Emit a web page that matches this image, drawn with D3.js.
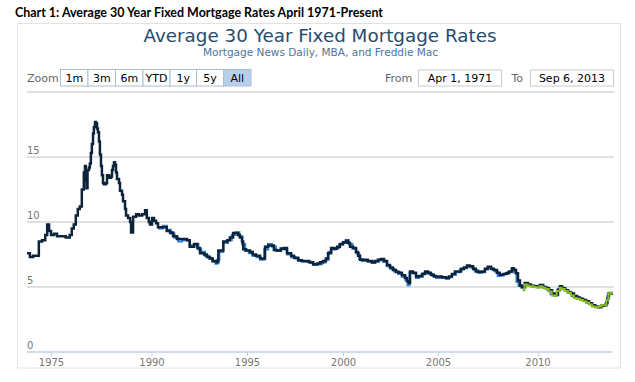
<!DOCTYPE html>
<html><head><meta charset="utf-8">
<script src="https://cdn.jsdelivr.net/npm/d3@7"></script>
<style>
html,body{margin:0;padding:0;background:#fff;}
svg{display:block;}
</style></head>
<body><svg id="c" width="635" height="382"></svg>
<script>
// ---- data (decimal year, rate %) ----
const freddieMac = [
[1971.25,7.6],[1971.7,7.3],[1972.2,7.4],[1972.8,7.4],[1973.1,8.5],[1973.6,8.6],[1974.1,9.0],[1974.4,9.8],[1974.7,9.3],
[1975.0,9.0],[1975.45,9.1],[1975.9,8.9],[1976.6,8.9],[1977.2,8.8],[1977.8,9.0],[1978.1,9.5],[1978.4,9.8],[1978.7,10.5],
[1979.0,11.0],[1979.3,11.2],[1979.6,12.5],[1979.9,13.8],[1980.07,14.3],[1980.2,13.2],[1980.3,12.6],[1980.45,14.0],
[1980.67,14.2],[1980.8,14.5],[1980.95,15.3],[1981.1,16.0],[1981.27,16.8],[1981.4,17.3],[1981.57,17.7],[1981.7,17.6],
[1981.87,17.2],[1982.0,16.9],[1982.16,16.2],[1982.3,15.2],[1982.46,14.3],[1982.6,13.6],[1982.76,13.0],[1982.9,12.9],
[1983.2,13.0],[1983.36,13.6],[1983.66,13.4],[1983.96,13.5],[1984.1,14.0],[1984.25,14.3],[1984.4,14.6],[1984.55,14.4],
[1984.7,13.8],[1984.85,13.3],[1985.15,13.0],[1985.3,12.4],[1985.6,12.1],[1985.75,11.6],[1986.05,11.0],[1986.2,10.5],
[1986.5,10.3],[1986.8,10.0],[1986.95,9.2],[1987.1,9.2],[1987.25,10.4],[1987.7,10.6],[1988.1,10.5],[1988.6,10.6],
[1989.04,10.9],[1989.3,10.3],[1989.6,10.0],[1989.78,9.8],[1990.03,10.3],[1990.13,10.1],[1990.24,9.9],[1990.34,9.6],
[1990.55,9.6],[1990.7,9.6],[1990.8,9.3],[1990.97,9.2],[1991.13,8.9],[1991.33,8.7],[1991.6,8.7],[1991.86,8.6],
[1992.0,8.1],[1992.23,8.3],[1992.4,8.0],[1992.54,7.6],[1992.75,7.5],[1992.9,7.3],[1993.06,7.2],[1993.2,7.0],
[1993.4,6.9],[1993.5,7.8],[1993.6,7.8],[1993.76,8.5],[1993.97,8.6],[1994.1,8.8],[1994.27,9.15],[1994.43,9.15],
[1994.53,9.0],[1994.63,8.8],[1994.74,8.5],[1994.8,7.9],[1994.95,7.8],[1995.16,7.7],[1995.3,7.5],[1995.47,7.4],
[1995.68,7.2],[1995.83,7.2],[1995.94,8.1],[1996.1,8.2],[1996.25,8.2],[1996.4,7.85],[1996.56,7.8],[1996.77,7.95],
[1996.93,8.0],[1997.08,7.6],[1997.3,7.4],[1997.45,7.25],[1997.66,7.05],[1997.86,7.0],[1998.07,7.0],[1998.23,6.9],
[1998.44,6.75],[1998.65,6.8],[1998.8,6.9],[1998.96,7.0],[1999.11,7.2],[1999.22,7.6],[1999.38,8.0],[1999.53,7.95],
[1999.69,8.1],[1999.84,8.3],[2000.0,8.45],[2000.16,8.55],[2000.26,8.4],[2000.37,8.1],[2000.53,8.0],[2000.68,7.7],
[2000.79,7.4],[2000.9,7.1],[2001.1,7.1],[2001.3,7.0],[2001.53,6.9],[2001.68,7.0],[2001.84,7.1],[2002.0,7.15],
[2002.16,7.0],[2002.32,6.7],[2002.47,6.5],[2002.63,6.3],[2002.79,6.15],[2002.95,6.1],[2003.1,5.9],[2003.26,5.7],
[2003.37,5.45],[2003.47,5.3],[2003.53,6.2],[2003.68,6.1],[2003.84,5.8],[2004.0,5.85],[2004.16,6.0],[2004.32,6.2],
[2004.47,6.1],[2004.63,5.95],[2004.79,5.8],[2005.0,5.8],[2005.2,5.75],[2005.4,5.7],[2005.55,5.8],[2005.7,6.0],
[2005.85,6.2],[2006.0,6.2],[2006.16,6.4],[2006.3,6.5],[2006.46,6.65],[2006.6,6.6],[2006.76,6.4],[2006.9,6.2],
[2007.06,6.15],[2007.2,6.2],[2007.36,6.4],[2007.5,6.55],[2007.66,6.4],[2007.8,6.3],[2007.96,6.1],[2008.1,5.95],
[2008.27,6.0],[2008.42,6.05],[2008.57,6.2],[2008.72,6.45],[2008.8,6.3],[2008.92,6.05],[2009.02,5.5],[2009.12,5.1],
[2009.22,5.0],[2009.37,5.3],[2009.52,5.2],[2009.67,5.1],[2009.82,5.05],[2009.97,5.05],[2010.12,5.15],[2010.27,5.0],
[2010.42,4.9],[2010.57,4.75],[2010.72,4.5],[2010.87,4.4],[2011.01,4.8],[2011.11,5.05],[2011.21,4.9],[2011.36,4.75],
[2011.5,4.6],[2011.66,4.5],[2011.8,4.3],[2011.96,4.2],[2012.1,4.1],[2012.25,4.0],[2012.4,3.9],[2012.55,3.75],
[2012.7,3.6],[2012.85,3.5],[2013.0,3.45],[2013.15,3.55],[2013.3,3.6],[2013.4,3.8],[2013.45,4.1],[2013.5,4.5],
[2013.6,4.5],[2013.68,4.6]
];
const mba = [
[1990.34,9.5],[1990.6,9.7],[1990.8,9.4],[1991.0,9.1],[1991.2,8.8],[1991.4,8.5],[1991.6,8.6],[1991.85,8.6],
[1992.0,8.2],[1992.25,8.3],[1992.45,7.9],[1992.6,7.7],[1992.8,7.4],[1993.0,7.2],[1993.2,6.95],[1993.35,6.8],
[1993.45,7.1],[1993.55,7.7],[1993.75,8.4],[1994.0,8.6],[1994.2,9.0],[1994.4,9.2],[1994.6,8.9],[1994.75,8.3],
[1994.9,7.8],[1995.1,7.6],[1995.3,7.4],[1995.5,7.3],[1995.7,7.1],[1995.9,7.9],[1996.1,8.3],[1996.3,8.1],
[1996.5,7.8],[1996.75,8.0],[1996.95,7.9],[1997.1,7.5],[1997.3,7.3],[1997.5,7.2],[1997.7,7.0],[1997.9,6.95],
[1998.1,6.95],[1998.3,6.85],[1998.45,6.7],[1998.7,6.75],[1998.9,6.9],[1999.1,7.1],[1999.25,7.7],[1999.4,7.9],
[1999.6,8.0],[1999.8,8.25],[2000.0,8.4],[2000.15,8.6],[2000.3,8.3],[2000.5,7.95],[2000.7,7.6],[2000.85,7.15],
[2001.0,7.0],[2001.3,6.95],[2001.5,6.85],[2001.7,6.95],[2001.9,7.1],[2002.1,6.95],[2002.3,6.6],[2002.5,6.4],
[2002.7,6.2],[2002.9,6.0],[2003.1,5.8],[2003.3,5.5],[2003.4,5.15],[2003.5,6.1],[2003.7,6.05],[2003.85,5.7],
[2004.0,5.8],[2004.2,6.05],[2004.35,6.15],[2004.5,6.0],[2004.7,5.85],[2004.9,5.7],[2005.2,5.7],[2005.4,5.65],
[2005.55,5.75],[2005.7,5.95],[2005.9,6.15],[2006.1,6.35],[2006.3,6.45],[2006.45,6.6],[2006.65,6.5],[2006.8,6.3],
[2007.0,6.1],[2007.2,6.15],[2007.35,6.35],[2007.5,6.5],[2007.7,6.35],[2007.85,6.2],[2008.0,5.85],[2008.15,5.9],
[2008.3,6.0],[2008.5,6.15],[2008.7,6.4],[2008.85,6.1],[2008.95,5.4],[2009.05,5.1],[2009.2,4.95],[2009.35,5.3],
[2009.5,5.15],[2009.7,5.05],[2009.9,5.0],[2010.1,5.1],[2010.3,4.95],[2010.5,4.75],[2010.65,4.45],[2010.8,4.35],
[2011.0,4.75],[2011.1,5.0],[2011.25,4.85],[2011.4,4.7],[2011.55,4.55],[2011.7,4.3],[2011.9,4.15],[2012.1,4.05],
[2012.25,3.95],[2012.4,3.8],[2012.55,3.7],[2012.7,3.55],[2012.85,3.45],[2013.0,3.5],[2013.2,3.55],[2013.35,3.7],
[2013.45,4.3],[2013.55,4.55],[2013.68,4.6]
];
const mnd = [
[2009.25,4.75],[2009.35,5.2],[2009.5,5.1],[2009.65,5.05],[2009.8,5.0],[2009.95,4.95],[2010.1,5.05],[2010.25,4.95],
[2010.4,4.85],[2010.55,4.65],[2010.7,4.35],[2010.85,4.3],[2010.95,4.7],[2011.1,4.95],[2011.2,4.85],[2011.35,4.7],
[2011.5,4.55],[2011.65,4.35],[2011.8,4.15],[2011.95,4.1],[2012.1,4.0],[2012.25,3.9],[2012.4,3.8],[2012.55,3.65],
[2012.7,3.5],[2012.85,3.45],[2013.0,3.5],[2013.15,3.6],[2013.3,3.6],[2013.4,4.0],[2013.5,4.5],[2013.6,4.55],[2013.68,4.65]
];
const yTicks = [0, 5, 10, 15, 20];
const yLabels = [0, 5, 10, 15];
const xTicks = [1975, 1990, 1995, 2000, 2005, 2010];
const zoomButtons = ["1m", "3m", "6m", "YTD", "1y", "5y", "All"];
const fromDate = "Apr 1, 1971";
const toDate = "Sep 6, 2013";

// ---- drawing ----
const svg = d3.select("#c");
const font = "'DejaVu Sans', Verdana, sans-serif";

svg.append("text").attr("x", 15).attr("y", 17)
  .attr("font-family", "Lato, 'Open Sans', sans-serif").attr("font-weight", "bold").attr("font-size", 14)
  .attr("fill", "#000").attr("textLength", 368).attr("lengthAdjust", "spacingAndGlyphs")
  .text("Chart 1: Average 30 Year Fixed Mortgage Rates April 1971-Present");

svg.append("rect").attr("x", 17.5).attr("y", 23.5).attr("width", 603).attr("height", 344.5)
  .attr("fill", "#fff").attr("stroke", "#e2e2e2").attr("stroke-width", 1);

svg.append("text").attr("x", 320).attr("y", 42).attr("text-anchor", "middle")
  .attr("font-family", font).attr("font-size", 18).attr("fill", "#274b6d")
  .attr("textLength", 353).attr("lengthAdjust", "spacingAndGlyphs")
  .text("Average 30 Year Fixed Mortgage Rates");
svg.append("text").attr("x", 320.5).attr("y", 56).attr("text-anchor", "middle")
  .attr("font-family", font).attr("font-size", 10.5).attr("fill", "#4d759e")
  .attr("textLength", 235).attr("lengthAdjust", "spacingAndGlyphs")
  .text("Mortgage News Daily, MBA, and Freddie Mac");

// range selector
svg.append("text").attr("x", 27).attr("y", 82).attr("font-family", font).attr("font-size", 11)
  .attr("fill", "#666").text("Zoom");
const btnEdges = [60.5, 88, 115.5, 143, 170, 196.5, 223.5, 251];
const bx = d3.scaleOrdinal().domain(zoomButtons).range(btnEdges.slice(0, 7));
const bw = zoomButtons.map((d, i) => btnEdges[i + 1] - btnEdges[i]);
const btn = svg.append("g").selectAll("g").data(zoomButtons).join("g");
btn.append("rect").attr("x", d => bx(d)).attr("y", 69.5).attr("height", 16.5)
  .attr("width", (d, i) => bw[i])
  .attr("fill", d => d === "All" ? "#b8cfec" : "#fff").attr("stroke", "#a9bfd6").attr("stroke-width", 1);
btn.append("text").attr("x", (d, i) => bx(d) + bw[i] / 2).attr("y", 82).attr("text-anchor", "middle")
  .attr("font-family", font).attr("font-size", 11).attr("fill", "#000").text(d => d);

svg.append("text").attr("x", 385).attr("y", 82).attr("font-family", font).attr("font-size", 11)
  .attr("fill", "#666").text("From");
svg.append("rect").attr("x", 418.5).attr("y", 70).attr("width", 83).attr("height", 16)
  .attr("fill", "#fff").attr("stroke", "#cccccc");
svg.append("text").attr("x", 460).attr("y", 82).attr("text-anchor", "middle").attr("font-family", font)
  .attr("font-size", 11).attr("fill", "#000").text(fromDate);
svg.append("text").attr("x", 511.5).attr("y", 82).attr("font-family", font).attr("font-size", 11)
  .attr("fill", "#666").text("To");
svg.append("rect").attr("x", 530.5).attr("y", 70).attr("width", 83).attr("height", 16)
  .attr("fill", "#fff").attr("stroke", "#cccccc");
svg.append("text").attr("x", 572).attr("y", 82).attr("text-anchor", "middle").attr("font-family", font)
  .attr("font-size", 11).attr("fill", "#000").text(toDate);

// scales (ordinal-style compressed time axis, as in the original)
const x = d3.scaleLinear()
  .domain([1971.25, 1975, 1990, 1995, 2000, 2005, 2010, 2013.68])
  .range([27, 51, 151.5, 247, 343, 438, 537.5, 612]);
const y = d3.scaleLinear().domain([0, 20]).range([352, 92]);

// grid
svg.append("g").selectAll("line").data(yTicks.filter(d => d > 0)).join("line")
  .attr("x1", 27).attr("x2", 614).attr("y1", d => y(d)).attr("y2", d => y(d))
  .attr("stroke", "#d6d6d6").attr("stroke-width", 1.5);
svg.append("g").selectAll("text").data(yLabels).join("text")
  .attr("x", 27).attr("y", d => y(d) - 3).attr("font-family", font).attr("font-size", 10)
  .attr("fill", "#777").text(d => d);

// x axis
const xAxis = d3.axisBottom(x).tickValues(xTicks).tickFormat(d3.format("d")).tickSize(4).tickPadding(3);
const gx = svg.append("g").attr("transform", "translate(0,352)").call(xAxis);
gx.select(".domain").attr("stroke", "#c0d0e0").attr("stroke-width", 1.5).attr("d", "M27,0H612");
gx.selectAll(".tick line").attr("stroke", "#c0d0e0");
gx.selectAll(".tick text").attr("font-family", font).attr("font-size", 10).attr("fill", "#777");

// lines
svg.append("clipPath").attr("id", "clip").append("rect").attr("x", 27).attr("y", 92).attr("width", 586).attr("height", 262);
const line = d3.line().x(d => x(d[0])).y(d => y(d[1])).curve(d3.curveStepAfter);
const plot = svg.append("g").attr("clip-path", "url(#clip)");
plot.append("path").datum(mba).attr("d", line).attr("fill", "none").attr("stroke", "#2f7ed8").attr("stroke-width", 2.2);
plot.append("path").datum(freddieMac).attr("d", line).attr("fill", "none").attr("stroke", "#0d233a").attr("stroke-width", 2.5);
plot.append("path").datum(mnd).attr("d", line).attr("fill", "none").attr("stroke", "#8bbc21").attr("stroke-width", 2);
</script></body></html>
